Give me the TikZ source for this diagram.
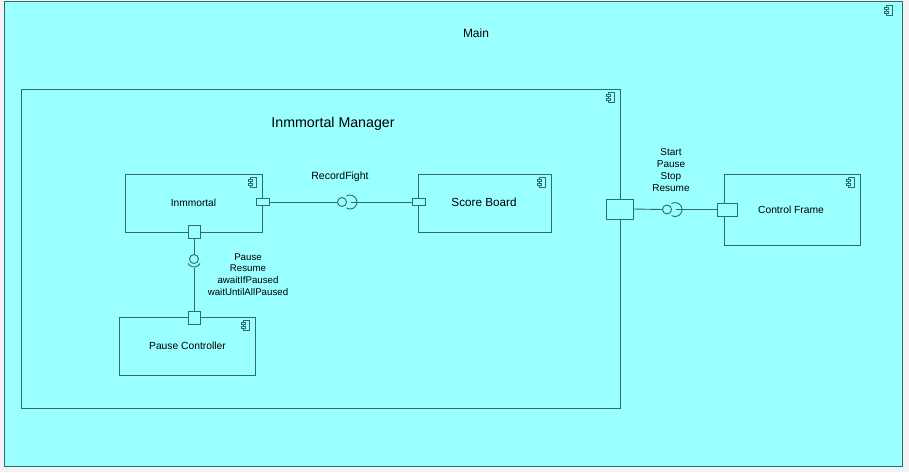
\documentclass[tikz,border=0pt]{standalone}
\usepackage{fontspec}
\setmainfont{Liberation Sans}
\definecolor{cyanfill}{HTML}{99FFFF}
\definecolor{edge}{HTML}{2E6B6E}
\definecolor{bggray}{HTML}{F2F2F2}
\tikzset{
  comp/.style={draw=edge, fill=cyanfill, line width=0.9pt, inner sep=0pt, anchor=north west},
  port/.style={draw=edge, fill=cyanfill, line width=0.9pt, inner sep=0pt, minimum width=#1, anchor=center},
  conn/.style={draw=edge, line width=0.9pt},
  lbl/.style={text=black, inner sep=0pt, align=center},
  ball/.style={draw=edge, fill=cyanfill, circle, line width=0.9pt, minimum size=9pt, inner sep=0pt},
}
\newcommand{\compicon}[2]{%
  \draw[edge, line width=0.7pt, fill=cyanfill] (#1-2.5,#2-5) rectangle (#1+3,#2+5);
  \draw[edge, line width=0.7pt, fill=cyanfill] (#1-4.5,#2-3) rectangle (#1-0.5,#2-1);
  \draw[edge, line width=0.7pt, fill=cyanfill] (#1-4.5,#2+1) rectangle (#1-0.5,#2+3);
}
\begin{document}
\begin{tikzpicture}[x=1pt,y=-1pt]
\fill[bggray] (0,0) rectangle (909,472);
\useasboundingbox (0,0) rectangle (909,472);
% Main
\node[comp, minimum width=898pt, minimum height=465pt] (main) at (4,1) {};
\node[lbl, font=\fontsize{12}{14}\selectfont] (mainlbl) at (476,33) {Main};
\compicon{889}{10}
% Manager
\node[comp, minimum width=599pt, minimum height=319pt] (mgr) at (21,89) {};
\node[lbl, font=\fontsize{14.2}{16}\selectfont] (mgrlbl) at (333,124) {Inmmortal Manager};
\compicon{611}{97}
% Inmmortal
\node[comp, minimum width=137pt, minimum height=58pt] (imm) at (125,174) {};
\node[lbl, font=\fontsize{10.2}{12}\selectfont] (immlbl) at (193.5,203.3) {Inmmortal};
\compicon{253}{182}
% Score Board
\node[comp, minimum width=133pt, minimum height=58pt] (sb) at (418,174) {};
\node[lbl, font=\fontsize{11.7}{13}\selectfont] (sblbl) at (484,202) {Score Board};
\compicon{542}{182}
% Pause Controller
\node[comp, minimum width=136pt, minimum height=58pt] (pc) at (119,317) {};
\node[lbl, font=\fontsize{10.3}{12}\selectfont] (pclbl) at (187.5,345.7) {Pause Controller};
\compicon{246}{325}
% Control Frame
\node[comp, minimum width=136pt, minimum height=71pt] (cf) at (724,174) {};
\node[lbl, font=\fontsize{10.3}{12}\selectfont] (cflbl) at (791,210) {Control Frame};
\compicon{851}{182}
% Ports
\node[port=13pt, minimum height=7pt] (immR) at (262.5,202) {};
\node[port=12pt, minimum height=13pt] (immB) at (194,232) {};
\node[port=13pt, minimum height=7pt] (sbL) at (418.5,202) {};
\node[port=12pt, minimum height=13pt] (pcT) at (194,317.5) {};
\node[port=27pt, minimum height=20pt] (mgrR) at (620,209) {};
\node[port=20pt, minimum height=13pt] (cfL) at (727,209.5) {};
% RecordFight lollipop
\node[ball] (rfball) at (342,202) {};
\coordinate (rfsock) at (351,202);
\draw[conn] (immR.east) -- (rfball.west);
\draw[conn] (rfsock) -- (sbL.west);
\draw[conn] (346.5,196) arc[start angle=120, end angle=-120, radius=7pt];
\node[lbl, font=\fontsize{10.5}{12}\selectfont] (rflbl) at (340,177) {RecordFight};
% Pause lollipop (vertical)
\node[ball] (pball) at (194,259) {};
\coordinate (psock) at (194,268);
\draw[conn] (immB.south) -- (pball.north);
\draw[conn] (psock) -- (pcT.north);
\draw[conn] (188,263.5) arc[start angle=210, end angle=330, radius=7pt];
\node[lbl, font=\fontsize{9.7}{11.8}\selectfont] (plbl) at (248,274.5) {Pause\\Resume\\awaitIfPaused\\waitUntilAllPaused};
% Control lollipop
\node[ball] (cball) at (667,209.5) {};
\coordinate (csock) at (676,209.5);
\draw[conn] (mgrR.east) -- (cball.west);
\draw[conn] (csock) -- (cfL.west);
\draw[conn] (671.5,203.5) arc[start angle=120, end angle=-120, radius=7pt];
\node[lbl, font=\fontsize{10}{12}\selectfont] (clbl) at (671,170) {Start\\Pause\\Stop\\Resume};
\end{tikzpicture}
\end{document}
